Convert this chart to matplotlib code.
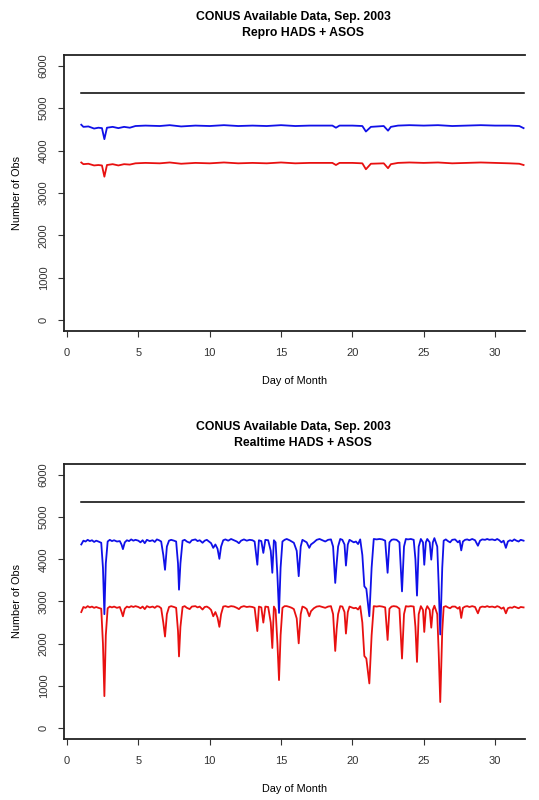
import matplotlib
matplotlib.use('Agg')
import matplotlib.pyplot as plt

plt.rcParams['font.family'] = ['Liberation Sans', 'DejaVu Sans']

# black reference line (same in both panels)
total_day = [1.0, 32.0]
total_obs = [5355, 5355]

# Repro HADS + ASOS (top panel)
repro_day = [1.0, 1.15, 1.5, 1.9, 2.2, 2.45, 2.62, 2.8, 3.2, 3.6, 4.0, 4.4, 4.8,
             5.5, 6.5, 7.2, 8.0, 9.0, 10.0, 11.0, 12.0, 13.0, 14.0, 15.0, 16.0,
             17.0, 18.0, 18.6, 18.85, 19.1, 20.0, 20.7, 20.95, 21.3, 22.2, 22.5,
             22.7, 23.2, 24.0, 25.0, 26.0, 27.0, 28.0, 29.0, 30.0, 31.0, 31.7, 32.0]
repro_blue = [4610, 4560, 4570, 4520, 4540, 4530, 4270, 4540, 4560, 4530, 4560, 4540, 4580,
              4590, 4580, 4600, 4570, 4590, 4580, 4600, 4580, 4590, 4580, 4600, 4580,
              4590, 4590, 4590, 4540, 4590, 4590, 4580, 4450, 4560, 4580, 4470,
              4560, 4590, 4600, 4590, 4600, 4580, 4590, 4600, 4590, 4590, 4580, 4530]
repro_red = [3720, 3680, 3690, 3650, 3660, 3650, 3385, 3660, 3680, 3650, 3680, 3670, 3700,
             3710, 3700, 3720, 3690, 3710, 3700, 3720, 3700, 3710, 3700, 3720, 3700,
             3710, 3710, 3710, 3660, 3710, 3710, 3700, 3560, 3690, 3700, 3585,
             3680, 3710, 3720, 3710, 3720, 3700, 3710, 3720, 3710, 3700, 3690, 3660]

# Realtime HADS + ASOS (bottom panel)
rt_day = [1.0, 1.15, 1.3, 1.45, 1.6, 1.75, 1.9, 2.05, 2.2, 2.4,
          2.52, 2.62, 2.72, 2.85, 3.0, 3.15, 3.3, 3.5, 3.7, 3.82,
          3.92, 4.05, 4.2, 4.35, 4.5, 4.65, 4.8, 5.0, 5.15, 5.3,
          5.45, 5.6, 5.8, 6.0, 6.15, 6.3, 6.45, 6.6, 6.75, 6.87,
          7.0, 7.15, 7.3, 7.5, 7.65, 7.78, 7.85, 7.95, 8.1, 8.25,
          8.4, 8.6, 8.75, 9.0, 9.15, 9.3, 9.5, 9.65, 9.8, 9.95,
          10.1, 10.25, 10.4, 10.55, 10.68, 10.8, 10.95, 11.1, 11.3, 11.5,
          11.7, 11.9, 12.05, 12.2, 12.4, 12.6, 12.8, 13.0, 13.15, 13.34,
          13.45, 13.62, 13.76, 13.9, 14.1, 14.28, 14.39, 14.5, 14.62, 14.75,
          14.86, 14.97, 15.1, 15.25, 15.4, 15.6, 15.75, 15.9, 16.1, 16.24,
          16.38, 16.5, 16.65, 16.8, 16.98, 17.1, 17.3, 17.5, 17.7, 17.9,
          18.1, 18.3, 18.5, 18.65, 18.8, 18.9, 19.0, 19.15, 19.3, 19.45,
          19.55, 19.68, 19.8, 19.95, 20.1, 20.25, 20.4, 20.55, 20.7, 20.84,
          20.98, 21.19, 21.35, 21.5, 21.7, 21.9, 22.1, 22.3, 22.47, 22.6,
          22.75, 22.9, 23.1, 23.3, 23.48, 23.62, 23.75, 23.9, 24.1, 24.3,
          24.42, 24.53, 24.65, 24.8, 24.95, 25.04, 25.15, 25.25, 25.42, 25.53,
          25.64, 25.75, 25.95, 26.05, 26.16, 26.3, 26.4, 26.55, 26.7, 26.85,
          27.0, 27.2, 27.4, 27.52, 27.63, 27.75, 27.9, 28.05, 28.2, 28.4,
          28.6, 28.8, 28.95, 29.1, 29.3, 29.45, 29.6, 29.8, 30.0, 30.15,
          30.3, 30.45, 30.6, 30.76, 30.9, 31.05, 31.2, 31.35, 31.5, 31.65,
          31.8, 32.0]
rt_blue = [4350, 4440, 4420, 4460, 4430, 4450, 4410, 4440, 4420, 4390,
           3800, 2700, 3900, 4420, 4460, 4430, 4450, 4420, 4430, 4350,
           4240, 4400, 4450, 4430, 4470, 4440, 4460, 4440, 4400, 4450,
           4380, 4460, 4430, 4450, 4410, 4470, 4450, 4420, 4100, 3750,
           4300, 4440, 4460, 4440, 4420, 3900, 3280, 3900, 4440, 4460,
           4420, 4390, 4450, 4470, 4430, 4450, 4390, 4440, 4460, 4420,
           4380, 4270, 4350, 4250, 4010, 4300, 4450, 4470, 4440, 4480,
           4450, 4420, 4380, 4440, 4470, 4440, 4460, 4450, 4420, 3870,
           4450, 4430, 4150, 4460, 4450, 4200, 3680, 4450, 4400, 3600,
           2730, 3800, 4420, 4460, 4480, 4450, 4420, 4390, 4200, 3600,
           4300, 4460, 4430, 4400, 4270, 4350, 4400, 4460, 4480, 4450,
           4420, 4460, 4470, 4300, 3440, 3900, 4300, 4480, 4460, 4350,
           3850, 4350, 4460, 4430, 4400, 4420, 4360, 4470, 4100, 3360,
           3300, 2650, 3800, 4480, 4470, 4480, 4470, 4440, 3680, 4400,
           4460, 4470, 4460, 4400, 3240, 4300, 4480, 4470, 4480, 4460,
           4000, 3140, 4300, 4480, 4400, 3870, 4400, 4480, 4400, 3990,
           4400, 4500, 4300, 3400, 2220, 3800, 4440, 4470, 4430, 4400,
           4460, 4470, 4400, 4440, 4210, 4420, 4460, 4470, 4450, 4480,
           4450, 4320, 4440, 4470, 4460, 4480, 4460, 4470, 4450, 4480,
           4450, 4400, 4440, 4270, 4420, 4450, 4430, 4470, 4440, 4420,
           4460, 4440]
rt_red = [2750, 2870, 2850, 2890, 2860, 2880, 2850, 2870, 2850, 2830,
          2000, 760, 2200, 2840, 2880, 2860, 2880, 2850, 2870, 2760,
          2650, 2830, 2880, 2860, 2890, 2870, 2890, 2870, 2840, 2880,
          2820, 2890, 2860, 2880, 2850, 2890, 2880, 2840, 2500, 2170,
          2700, 2870, 2890, 2870, 2850, 2300, 1700, 2400, 2870, 2890,
          2850, 2820, 2880, 2890, 2860, 2880, 2810, 2870, 2880, 2850,
          2800, 2650, 2750, 2620, 2400, 2700, 2880, 2890, 2870, 2890,
          2880, 2850, 2820, 2870, 2890, 2870, 2880, 2870, 2850, 2300,
          2880, 2860, 2500, 2880, 2870, 2500, 1900, 2880, 2800, 2000,
          1140, 2200, 2850, 2890, 2890, 2870, 2850, 2820, 2600, 2010,
          2700, 2880, 2860, 2820, 2650, 2770, 2840, 2880, 2890, 2870,
          2850, 2880, 2890, 2700, 1830, 2350, 2700, 2890, 2880, 2750,
          2240, 2750, 2880, 2860, 2840, 2850, 2810, 2890, 2500, 1710,
          1650, 1060, 2200, 2890, 2880, 2890, 2880, 2860, 2090, 2830,
          2880, 2890, 2880, 2830, 1650, 2700, 2890, 2880, 2890, 2880,
          2400, 1570, 2700, 2890, 2800, 2280, 2800, 2890, 2800, 2380,
          2800, 2900, 2700, 1800, 620, 2300, 2870, 2890, 2860, 2840,
          2880, 2880, 2830, 2870, 2610, 2850, 2880, 2890, 2870, 2890,
          2870, 2720, 2860, 2880, 2870, 2890, 2870, 2880, 2860, 2890,
          2870, 2830, 2860, 2720, 2840, 2860, 2850, 2880, 2860, 2840,
          2870, 2860]

W, H = 539, 800
fig = plt.figure(figsize=(W / 100, H / 100), dpi=100)


def draw_panel(top_px, bottom_px, day, blue, red, sub, title_y):
    left, right = 64, 525
    ax = fig.add_axes([left / W, 1 - bottom_px / H, (right - left) / W, (bottom_px - top_px) / H])
    ax.plot(total_day, total_obs, color='black', lw=1.1)
    ax.plot(day, blue, color='#1010e8', lw=1.3)
    ax.plot(day, red, color='#e81010', lw=1.3)
    ax.set_xlim(-0.21, 32.1)
    ax.set_ylim(-255, 6255)
    ax.set_xticks(range(0, 31, 5))
    ax.set_yticks(range(0, 6001, 1000))
    ax.set_yticklabels([str(v) for v in range(0, 6001, 1000)], rotation=90, va='center')
    ax.spines['right'].set_visible(False)
    for s in ['left', 'bottom', 'top']:
        ax.spines[s].set_linewidth(1.3)
        ax.spines[s].set_color('#222222')
    ax.tick_params(labelsize=8, length=4, width=0.8, colors='#333333')
    ax.tick_params(axis='x', pad=8)
    ax.tick_params(axis='y', pad=7)
    ax.set_ylabel('Number of Obs', fontsize=7.8, labelpad=12)
    ax.set_xlabel('Day of Month', fontsize=7.8, labelpad=13)
    fig.text(293 / W, 1 - title_y / H, 'CONUS Available Data, Sep. 2003',
             ha='center', va='center', fontsize=8.8, fontweight='bold')
    fig.text(303 / W, 1 - (title_y + 16) / H, sub,
             ha='center', va='center', fontsize=8.8, fontweight='bold')
    return ax


draw_panel(55, 331, repro_day, repro_blue, repro_red, 'Repro HADS + ASOS', 17)
draw_panel(464, 739, rt_day, rt_blue, rt_red, 'Realtime HADS + ASOS', 427)

fig.savefig('out.png', dpi=100)
